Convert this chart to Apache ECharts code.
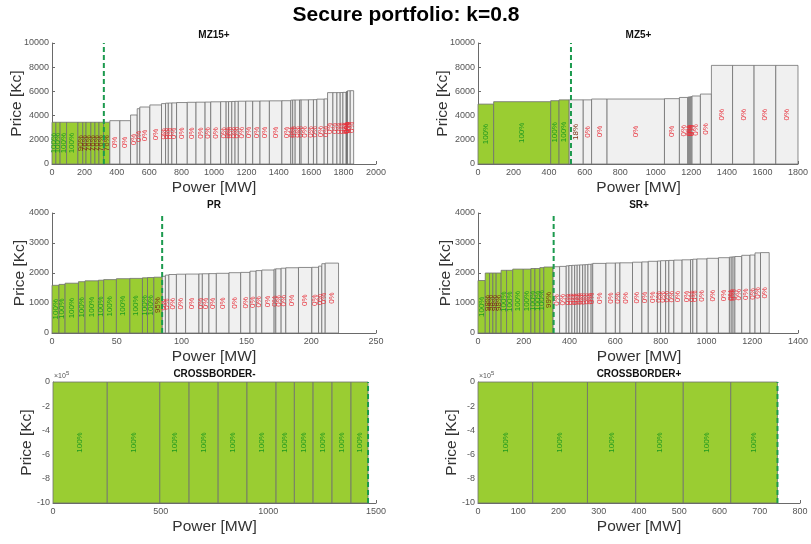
<!DOCTYPE html>
<html>
<head>
<meta charset="utf-8">
<script src="https://cdn.jsdelivr.net/npm/echarts@6/dist/echarts.min.js"></script>
<style>
  html, body { margin: 0; padding: 0; background: #fff; }
  #chart { width: 811px; height: 544px; }
</style>
</head>
<body>
<div id="chart"></div>
<script>
// ---------------- bid data per product (quantity MW, price Kc, accepted %) ----------------
const mz15Qty = [24, 26, 40, 70, 30, 20, 30, 25, 25, 28, 39,
  62, 66, 41, 16, 62, 72, 25, 17, 22, 29,
  66, 54, 56, 35, 61, 34, 15, 20, 20, 20,
  46, 43, 45, 58, 77, 55, 12, 15, 27, 10,
  45, 31, 21, 45, 21, 33, 25, 20, 17, 20,
  2, 2, 2, 2, 17, 21];
const mz15Price = [3450, 3450, 3450, 3450, 3450, 3450, 3450, 3450, 3450, 3450, 3450,
  3580, 3580, 4050, 4570, 4710, 4880, 4990, 5030, 5040, 5050,
  5080, 5100, 5110, 5120, 5140, 5150, 5150, 5160, 5170, 5180,
  5190, 5200, 5200, 5210, 5220, 5230, 5280, 5290, 5290, 5300,
  5300, 5310, 5320, 5360, 5380, 5900, 5900, 5900, 5910, 5920,
  5950, 5970, 5990, 6000, 6050, 6060];
const mz15Pct = [100, 100, 100, 100, 90, 76, 76, 76, 76, 76, 76,
  0, 0, 0, 0, 0, 0, 0, 0, 0, 0,
  0, 0, 0, 0, 0, 0, 0, 0, 0, 0,
  0, 0, 0, 0, 0, 0, 0, 0, 0, 0,
  0, 0, 0, 0, 0, 0, 0, 0, 0, 0,
  0, 0, 0, 0, 0, 0];

const mz5Qty = [88, 321, 47, 57, 79, 47, 87, 323, 84, 47, 6, 6, 6, 6, 47, 62, 119, 121, 122, 125];
const mz5Price = [4950, 5150, 5230, 5300, 5300, 5300, 5370, 5370, 5400, 5500, 5530, 5540, 5550, 5560, 5620, 5780, 8150, 8150, 8150, 8150];
const mz5Pct = [100, 100, 100, 100, 18, 0, 0, 0, 0, 0, 0, 0, 0, 0, 0, 0, 0, 0, 0, 0];

const prQty = [5.4, 4.7, 10.3, 5.1, 10.3, 4.1, 9.8, 10.4, 9.7, 3.9, 4.9, 6.5,
  2.4, 2.7, 5.8, 7.1, 10.3, 2.6, 5.1, 5.7, 9.8, 9.0, 7.2, 4.7, 4.4, 9.5, 1.3, 4.1, 3.6, 9.8, 10.3, 5.2, 2.5, 2.6, 10.3];
const prPrice = [1590, 1620, 1660, 1710, 1740, 1760, 1780, 1810, 1820, 1840, 1850, 1860,
  1890, 1930, 1950, 1960, 1965, 1970, 1975, 1980, 1990, 2010, 2020, 2060, 2080, 2100, 2130, 2140, 2160, 2175, 2185, 2190, 2230, 2310, 2330];
const prPct = [100, 100, 100, 100, 100, 100, 100, 100, 100, 100, 100, 95,
  0, 0, 0, 0, 0, 0, 0, 0, 0, 0, 0, 0, 0, 0, 0, 0, 0, 0, 0, 0, 0, 0, 0];

const srQty = [31.7, 18.7, 14.6, 14.5, 21.7, 23.8, 27, 46, 33.6, 17.4, 21.7, 17.3, 40.5,
  28.5, 29, 12, 13, 12, 11, 11, 13, 11, 12, 14, 7, 58, 41, 20, 55, 41, 28, 40, 14,
  22, 14, 22, 36, 37, 10, 18, 44, 50, 48, 8, 8, 8, 30, 36, 22, 24, 38];
const srPrice = [1750, 2000, 2000, 2000, 2000, 2090, 2090, 2130, 2130, 2150, 2150, 2180, 2200,
  2210, 2220, 2240, 2250, 2255, 2260, 2265, 2270, 2275, 2280, 2290, 2300, 2320, 2330, 2335, 2340, 2360, 2370, 2390, 2400,
  2410, 2415, 2420, 2430, 2440, 2450, 2460, 2470, 2490, 2510, 2530, 2535, 2540, 2550, 2590, 2600, 2670, 2680];
const srPct = [100, 98, 98, 98, 98, 100, 100, 100, 100, 100, 100, 100, 99,
  0, 0, 0, 0, 0, 0, 0, 0, 0, 0, 0, 0, 0, 0, 0, 0, 0, 0, 0, 0,
  0, 0, 0, 0, 0, 0, 0, 0, 0, 0, 0, 0, 0, 0, 0, 0, 0, 0];

const cbMinusQty = [252, 244, 136, 135, 134, 135, 85, 87, 88, 88, 79];
const cbMinusPrice = [-1000000, -1000000, -1000000, -1000000, -1000000, -1000000, -1000000, -1000000, -1000000, -1000000, -1000000];
const cbMinusPct = [100, 100, 100, 100, 100, 100, 100, 100, 100, 100, 100];

const cbPlusQty = [136, 136, 120, 118, 118, 116];
const cbPlusPrice = [-1000000, -1000000, -1000000, -1000000, -1000000, -1000000];
const cbPlusPct = [100, 100, 100, 100, 100, 100];

// cleared quantity (MW) of each product, in panel order
const clearedQty = [320, 523, 85, 331, 1463, 744];
const panelTitles = ['MZ15+', 'MZ5+', 'PR', 'SR+', 'CROSSBORDER-', 'CROSSBORDER+'];

// ---------------- layout and styling ----------------
const FONT = '"Liberation Sans", Arial, Helvetica, sans-serif';
const GREEN_FILL = '#9acd32';
const GRAY_FILL = '#f0f0f0';
const EDGE = '#707070';
const AXIS = '#6a6a6a';
const TXT_FULL = '#1f9a1f';
const TXT_PART = '#7b3014';
const TXT_NONE = '#e8323c';
const CLEAR_LINE = '#1c9a4e';

const panels = [
  { qty: mz15Qty, price: mz15Price, pct: mz15Pct, grid: [52, 43, 324, 121], x: [0, 2000, 200], y: [0, 10000, 2000] },
  { qty: mz5Qty, price: mz5Price, pct: mz5Pct, grid: [478, 43, 321, 121], x: [0, 1800, 200], y: [0, 10000, 2000] },
  { qty: prQty, price: prPrice, pct: prPct, grid: [52, 213, 324, 120], x: [0, 250, 50], y: [0, 4000, 1000] },
  { qty: srQty, price: srPrice, pct: srPct, grid: [478, 213, 322, 120], x: [0, 1400, 200], y: [0, 4000, 1000] },
  { qty: cbMinusQty, price: cbMinusPrice, pct: cbMinusPct, grid: [53, 382, 323, 121], x: [0, 1500, 500], y: [-1000000, 0, 200000], scale: 1e5 },
  { qty: cbPlusQty, price: cbPlusPrice, pct: cbPlusPct, grid: [478, 382, 322, 121], x: [0, 800, 100], y: [-1000000, 0, 200000], scale: 1e5 }
];

// merit-order rows: [start MW, end MW, price, accepted %]
function bidRows(qty, price, pct) {
  let acc = 0;
  return qty.map((q, i) => {
    const s = acc;
    acc += q;
    return [s, acc, price[i], pct[i]];
  });
}

function barItem(params, api) {
  const s = api.value(0), e = api.value(1), p = api.value(2), pct = api.value(3);
  const a = api.coord([s, 0]);
  const b = api.coord([e, p]);
  return {
    type: 'rect',
    shape: { x: a[0], y: Math.min(a[1], b[1]), width: b[0] - a[0], height: Math.abs(b[1] - a[1]) },
    style: { fill: pct >= 50 ? GREEN_FILL : GRAY_FILL, stroke: EDGE, lineWidth: 0.8 }
  };
}

function labelItem(params, api) {
  const s = api.value(0), e = api.value(1), p = api.value(2), pct = api.value(3);
  const c = api.coord([(s + e) / 2, p / 2]);
  const col = pct >= 100 ? TXT_FULL : (pct > 0 ? TXT_PART : TXT_NONE);
  return {
    type: 'text',
    x: c[0], y: c[1],
    rotation: Math.PI / 2,
    style: { text: pct + '%', fill: col, font: '8px ' + FONT, align: 'center', verticalAlign: 'middle' }
  };
}

const plain = v => String(v);
const grids = [], xAxes = [], yAxes = [], series = [], graphics = [];

panels.forEach((pn, i) => {
  const [l, t, w, h] = pn.grid;
  grids.push({ left: l, top: t, width: w, height: h, containLabel: false });
  xAxes.push({
    type: 'value', gridIndex: i, min: pn.x[0], max: pn.x[1], interval: pn.x[2],
    axisLine: { onZero: false, lineStyle: { color: AXIS, width: 1 } },
    axisTick: { inside: true, length: 3, lineStyle: { color: AXIS } },
    axisLabel: { fontSize: 9, color: '#555', margin: 4, fontFamily: FONT, formatter: plain },
    splitLine: { show: false }
  });
  yAxes.push({
    type: 'value', gridIndex: i, min: pn.y[0], max: pn.y[1], interval: pn.y[2],
    axisLine: { onZero: false, lineStyle: { color: AXIS, width: 1 } },
    axisTick: { inside: true, length: 3, lineStyle: { color: AXIS } },
    axisLabel: {
      fontSize: 9, color: '#555', margin: 3, fontFamily: FONT,
      formatter: pn.scale ? (v => String(Math.round(v / pn.scale))) : plain
    },
    splitLine: { show: false }
  });
  const rows = bidRows(pn.qty, pn.price, pn.pct);
  series.push({
    type: 'custom', xAxisIndex: i, yAxisIndex: i, data: rows,
    encode: { x: [0, 1], y: 2 }, renderItem: barItem, z: 2, silent: true
  });
  series.push({
    type: 'custom', xAxisIndex: i, yAxisIndex: i, data: rows,
    encode: { x: [0, 1], y: 2 }, renderItem: labelItem, z: 3, silent: true
  });
  series.push({
    type: 'line', xAxisIndex: i, yAxisIndex: i, symbol: 'none', silent: true, z: 4,
    data: [[clearedQty[i], pn.y[0]], [clearedQty[i], pn.y[1]]],
    lineStyle: { color: CLEAR_LINE, width: 2, type: [5, 3] }
  });

  const cx = l + w / 2;
  // panel title
  graphics.push({
    type: 'text', x: cx, y: t - 8,
    style: { text: panelTitles[i], font: 'bold 10px ' + FONT, fill: '#111', align: 'center', verticalAlign: 'middle' }
  });
  // axis names
  graphics.push({
    type: 'text', x: cx, y: t + h + 24,
    style: { text: 'Power [MW]', font: '15.5px ' + FONT, fill: '#333', align: 'center', verticalAlign: 'middle' }
  });
  const yNameGap = pn.scale ? 26 : (pn.y[1] >= 10000 ? 35 : 32);
  graphics.push({
    type: 'text', x: l - yNameGap, y: t + h / 2, rotation: Math.PI / 2,
    style: { text: 'Price [Kc]', font: '15.5px ' + FONT, fill: '#333', align: 'center', verticalAlign: 'middle' }
  });
  if (pn.scale) {
    graphics.push({ type: 'text', x: l + 1, y: t - 6, style: { text: '\u00d710', font: '7px ' + FONT, fill: '#555', align: 'left', verticalAlign: 'middle' } });
    graphics.push({ type: 'text', x: l + 13, y: t - 9, style: { text: '5', font: '6px ' + FONT, fill: '#555', align: 'left', verticalAlign: 'middle' } });
  }
});

graphics.push({
  type: 'text', x: 406, y: 15,
  style: { text: 'Secure portfolio: k=0.8', font: 'bold 21px ' + FONT, fill: '#000', align: 'center', verticalAlign: 'middle' }
});

const chart = echarts.init(document.getElementById('chart'), null, { renderer: 'canvas' });
chart.setOption({
  animation: false,
  backgroundColor: '#fff',
  grid: grids,
  xAxis: xAxes,
  yAxis: yAxes,
  series: series,
  graphic: graphics
});
</script>
</body>
</html>
